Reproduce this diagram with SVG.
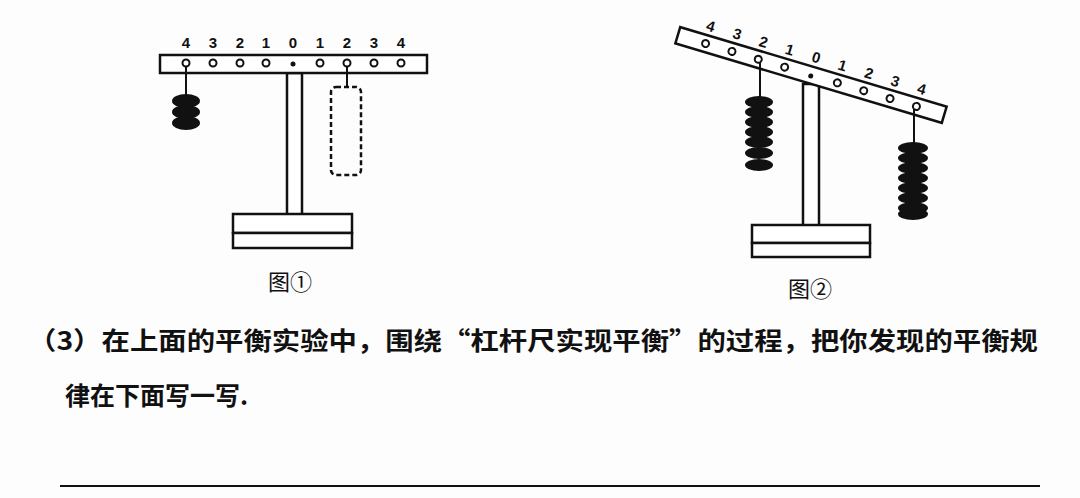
<svg xmlns="http://www.w3.org/2000/svg" width="1080" height="498" viewBox="0 0 1080 498">
<style>
.l{fill:#fff;stroke:#111;stroke-width:2.5}
.h{fill:#fff;stroke:#111;stroke-width:2}
.w{fill:#111}
.n{font-family:"Liberation Sans",sans-serif;font-size:15px;font-weight:bold;fill:#111;text-anchor:middle}
.t{font-family:"Noto Sans CJK SC",sans-serif;font-size:25px;font-weight:bold;fill:#111}
.c{font-family:"Noto Sans CJK SC",sans-serif;font-size:22px;fill:#111;text-anchor:middle}
</style>
<rect width="1080" height="498" fill="#fdfdfd"/>
<g id="fig1">
<rect class="l" x="287" y="73" width="15" height="150"/>
<rect class="l" x="233" y="214" width="119" height="19"/>
<rect class="l" x="233" y="233" width="119" height="15"/>
<rect class="l" x="160" y="55" width="267" height="18"/>
<g class="h"><circle cx="186" cy="63" r="3.5"/><circle cx="213" cy="63" r="3.5"/><circle cx="240" cy="63" r="3.5"/><circle cx="266" cy="63" r="3.5"/><circle cx="320" cy="63" r="3.5"/><circle cx="347" cy="63" r="3.5"/><circle cx="374" cy="63" r="3.5"/><circle cx="401" cy="63" r="3.5"/></g>
<circle class="w" cx="293" cy="64" r="2.5"/>
<g class="n"><text x="186" y="48">4</text><text x="213" y="48">3</text><text x="240" y="48">2</text><text x="266" y="48">1</text><text x="293" y="48">0</text><text x="320" y="48">1</text><text x="347" y="48">2</text><text x="374" y="48">3</text><text x="401" y="48">4</text></g>
<line x1="186" y1="67" x2="186" y2="96" stroke="#111" stroke-width="2"/>
<g class="w"><ellipse cx="186" cy="101" rx="14" ry="7"/><ellipse cx="186" cy="112" rx="14" ry="7"/><ellipse cx="186" cy="123" rx="14" ry="7"/></g>
<line x1="347" y1="67" x2="347" y2="87" stroke="#111" stroke-width="2"/>
<rect x="331" y="87" width="30" height="88" rx="5" fill="none" stroke="#111" stroke-width="2.5" stroke-dasharray="5,3"/>
<text class="c" x="290" y="290">图①</text>
</g>
<g id="fig2">
<rect class="l" x="803" y="84" width="16" height="152"/>
<rect class="l" x="752" y="225" width="118" height="18"/>
<rect class="l" x="752" y="243" width="118" height="14"/>
<g transform="rotate(16.6 811 75)">
<rect class="l" x="672" y="66.5" width="278" height="17"/>
<g class="h"><circle cx="701" cy="75" r="3.5"/><circle cx="728.5" cy="75" r="3.5"/><circle cx="756" cy="75" r="3.5"/><circle cx="783.5" cy="75" r="3.5"/><circle cx="838.5" cy="75" r="3.5"/><circle cx="866" cy="75" r="3.5"/><circle cx="893.5" cy="75" r="3.5"/><circle cx="921" cy="75" r="3.5"/></g>
<circle class="w" cx="811" cy="76" r="2.5"/>
<g class="n"><text x="701" y="62">4</text><text x="728.5" y="62">3</text><text x="756" y="62">2</text><text x="783.5" y="62">1</text><text x="811" y="62">0</text><text x="838.5" y="62">1</text><text x="866" y="62">2</text><text x="893.5" y="62">3</text><text x="921" y="62">4</text></g>
</g>
<line x1="760" y1="63" x2="760" y2="97" stroke="#111" stroke-width="2"/>
<g class="w"><ellipse cx="759" cy="102" rx="14" ry="6"/><ellipse cx="759" cy="112" rx="14" ry="6"/><ellipse cx="759" cy="122" rx="14" ry="6"/><ellipse cx="759" cy="132" rx="14" ry="6"/><ellipse cx="759" cy="142" rx="14" ry="6"/><ellipse cx="759" cy="153" rx="14" ry="6"/><ellipse cx="759" cy="165" rx="14" ry="6"/></g>
<line x1="914" y1="109" x2="914" y2="143" stroke="#111" stroke-width="2"/>
<g class="w"><ellipse cx="913" cy="148" rx="15" ry="6"/><ellipse cx="913" cy="158" rx="15" ry="6"/><ellipse cx="913" cy="168" rx="15" ry="6"/><ellipse cx="913" cy="178" rx="15" ry="6"/><ellipse cx="913" cy="188" rx="15" ry="6"/><ellipse cx="913" cy="198" rx="15" ry="6"/><ellipse cx="913" cy="208" rx="15" ry="6"/><ellipse cx="913" cy="214" rx="15" ry="6"/></g>
<text class="c" x="810" y="297">图②</text>
</g>
<text class="t" x="28" y="350" textLength="1010" lengthAdjust="spacingAndGlyphs">（3）在上面的平衡实验中，围绕“杠杆尺实现平衡”的过程，把你发现的平衡规</text>
<text class="t" x="65" y="405">律在下面写一写.</text>
<line x1="60" y1="486" x2="1040" y2="486" stroke="#111" stroke-width="2"/>
</svg>
